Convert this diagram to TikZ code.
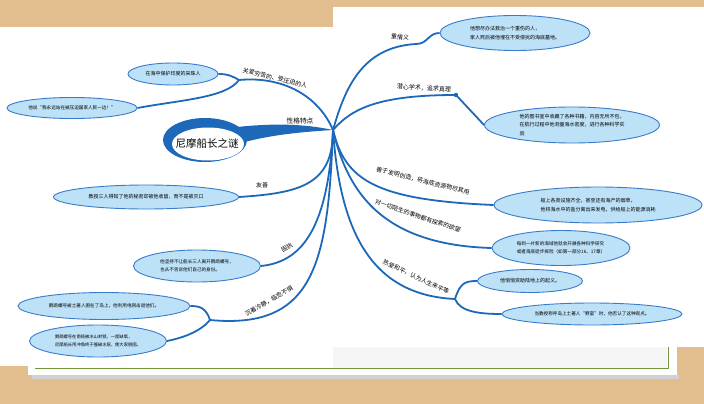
\documentclass[tikz,border=0pt]{standalone}
\usepackage{fontspec}
\newfontfamily\cjk{Noto Sans CJK SC}
\usetikzlibrary{shapes.geometric}
\definecolor{mapblue}{RGB}{30,104,186}
\definecolor{leafblue}{RGB}{189,225,247}
\definecolor{leafline}{RGB}{58,124,204}
\definecolor{wood}{RGB}{226,190,142}
\definecolor{pagegreen}{RGB}{118,148,62}

\begin{document}
\begin{tikzpicture}[x=1pt,y=-1pt,
    branch/.style={mapblue,line width=1.8pt},
    leaf/.style={ellipse,draw=leafline,fill=leafblue,line width=0.9pt,inner sep=0pt,
      align=left,font=\cjk\fontsize{5}{8.5}\selectfont},
    small/.style={font=\cjk\fontsize{4.6}{8}\selectfont},
    tag/.style={inner sep=0.5pt,font=\cjk\fontsize{6}{7}\selectfont}]
  \useasboundingbox (0,0) rectangle (704,404);
  % sheet on the desk
  \fill[wood] (0,0) rectangle (704,404);
  \fill[white] (0,27) rectangle (333,366);
  \fill[white] (333,7) rectangle (704,347);
  \fill[black!18] (32,375) rectangle (679,379);
  \fill[white] (28,27) rectangle (677,375);
  \fill[black!4] (333,347) rectangle (667,368);
  \draw[pagegreen,line width=0.7pt] (35,368) -- (668,368) -- (668,347);

  % centre
  \coordinate (hub) at (333,130);
  \coordinate (j1) at (416,44);
  \coordinate (j2) at (456,95);
  \coordinate (f3) at (239,80);
  \coordinate (f6) at (210,320);
  \coordinate (f9) at (455,299);
  \fill[mapblue] (205,140) ellipse [x radius=42,y radius=22];
  \fill[mapblue] (237,127) .. controls (275,123) and (305,124) .. (hub)
    .. controls (300,132) and (270,135) .. (241,143) -- cycle;
  \fill[white] (208,144) ellipse [x radius=36,y radius=16.5];
  \node[font=\cjk\fontsize{10.5}{12}\selectfont] (title) at (207,143) {尼摩船长之谜};
  \node[tag,font=\cjk\fontsize{6.7}{8}\selectfont] (traits) at (300,121) {性格特点};

  % leaves
  \node[leaf,minimum width=150pt,minimum height=35pt] (love) at (515,33)
    {他想尽办法救治一个重伤的人，\\家人死后被他埋在不受侵扰的海底墓地。};
  \node[leaf,minimum width=175pt,minimum height=36pt] (study) at (572,125)
    {他的图书室中收藏了各种书籍，内容无所不包，\\在航行过程中他测量海水密度，进行各种科学实\\验};
  \node[leaf,minimum width=90pt,minimum height=22pt] (pearl) at (173,74)
    {在海中保护印度的采珠人};
  \node[leaf,small,minimum width=130pt,minimum height=21pt] (oppressed) at (72,108)
    {他说“我永远站在被压迫国家人民一边！”};
  \node[leaf,minimum width=185pt,minimum height=24pt] (friend) at (146,197)
    {教授三人得知了他的秘密却被他收留，而不是被灭口};
  \node[leaf,small,minimum width=127pt,minimum height=32pt] (stubborn) at (197,266)
    {他坚持不让船长三人离开鹦鹉螺号，\\也从不告诉他们自己的身份。};
  \node[leaf,small,minimum width=172pt,minimum height=27pt] (island) at (104,306)
    {鹦鹉螺号被土著人困在了岛上，他利用电网击退他们。};
  \node[leaf,font=\cjk\fontsize{4.3}{8}\selectfont,minimum width=137pt,minimum height=32pt] (icefield) at (98,341)
    {鹦鹉螺号在南极被冰山封锁，一度缺氧，\\尼摩船长用冲角终于撞破冰层，使大家脱困。};
  \node[leaf,minimum width=208pt,minimum height=36pt] (invent) at (598,205)
    {船上各类设施齐全，甚至还有海产的烟草，\\他将海水中的盐分离出来发电，供给船上的能源消耗};
  \node[leaf,small,minimum width=138pt,minimum height=35pt] (explore) at (561,248)
    {每到一片新的海域他就会开展各种科学研究\\或者海底徒步探险（如第一部分16、17章）};
  \node[leaf,minimum width=105pt,minimum height=23pt] (uprising) at (530,281)
    {他悄悄资助陆地上的起义。};
  \node[leaf,small,minimum width=180pt,minimum height=22pt] (savage) at (592,314)
    {当教授称呼岛上土著人“野蛮”时，他否认了这种观点。};

  % branches
  \draw[branch] (hub) .. controls (345,88) and (362,47) .. (j1)
    .. controls (428,44) and (428,33) .. (love.west);
  \node[tag,rotate=-5] (lovetag) at (400,37) {重情义};
  \draw[branch] (hub) .. controls (352,108) and (380,95) .. (j2) -- (study.west);
  \fill[mapblue] (j2) circle (2.2pt);
  \node[tag,rotate=-3] (studytag) at (424,88) {潜心学术，追求真理};
  \draw[branch] (hub) .. controls (318,95) and (282,76) .. (f3);
  \draw[branch] (f3) .. controls (232,76) and (228,74) .. (pearl.east);
  \draw[branch] (f3) .. controls (226,98) and (180,100) .. (oppressed.east);
  \node[tag,rotate=-14] (poortag) at (275,78) {关爱穷苦的、受压迫的人};
  \draw[branch] (hub) .. controls (333,185) and (300,193) .. (friend.east);
  \node[tag] (friendtag) at (262,185) {友善};
  \draw[branch] (hub) .. controls (328,232) and (300,262) .. (stubborn.east);
  \node[tag,rotate=30] (stubborntag) at (287,248) {固执};
  \draw[branch] (hub) .. controls (328,262) and (315,330) .. (f6);
  \draw[branch] (f6) .. controls (206,308) and (200,306) .. (island.east);
  \draw[branch] (f6) .. controls (200,332) and (182,338) .. (icefield.east);
  \node[tag,rotate=30] (calmtag) at (269,301) {沉着冷静，临危不惧};
  \draw[branch] (hub) .. controls (345,180) and (375,200) .. (invent.west);
  \node[tag,rotate=-14] (inventtag) at (423,181) {善于发明创造，将海底资源物尽其用};
  \draw[branch] (hub) .. controls (348,195) and (385,245) .. (explore.west);
  \node[tag,rotate=-19] (exploretag) at (418,216) {对一切陌生的事物都有探索的欲望};
  \draw[branch] (hub) .. controls (340,230) and (370,295) .. (f9);
  \draw[branch] (f9) .. controls (460,283) and (465,281) .. (uprising.west);
  \draw[branch] (f9) .. controls (460,312) and (480,314) .. (savage.west);
  \node[tag,rotate=-25] (peacetag) at (416,277) {热爱和平，认为人生来平等};
\end{tikzpicture}
\end{document}
